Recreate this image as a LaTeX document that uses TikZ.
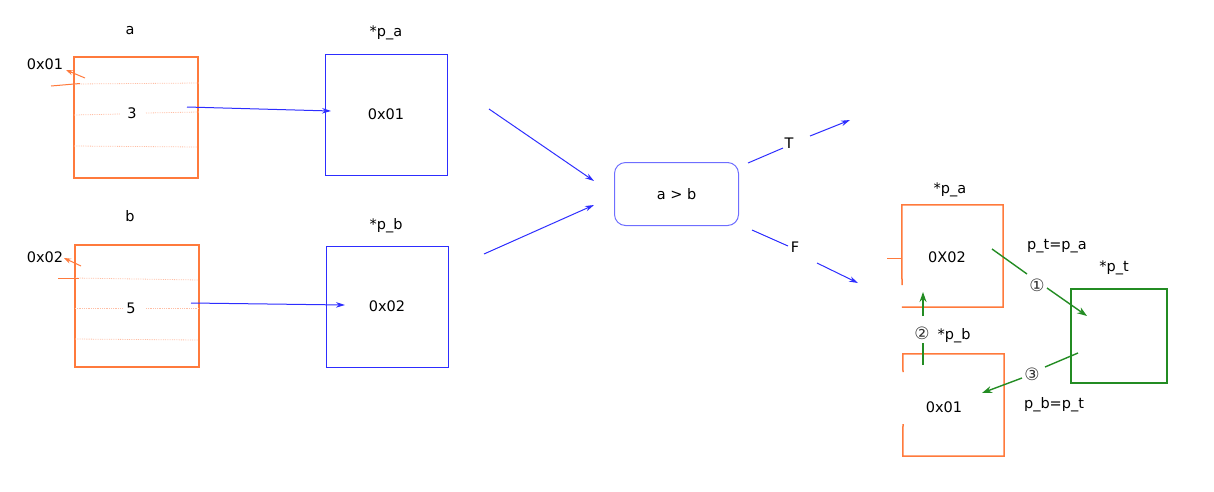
\documentclass[tikz,border=0pt]{standalone}
\usepackage{fontspec}
\setmainfont{DejaVu Sans}
\usetikzlibrary{arrows.meta}
\definecolor{org}{RGB}{255,122,60}
\definecolor{blu}{RGB}{45,45,255}
\definecolor{lblu}{RGB}{110,110,255}
\definecolor{grn}{RGB}{35,140,35}
\definecolor{faint}{RGB}{255,190,165}
\tikzset{
  lbl/.style={inner sep=1pt, font=\fontsize{14.5}{16}\selectfont},
  circ/.style={inner sep=1pt, font=\fontsize{17}{18}\selectfont, text=black!80},
  obox/.style={draw=org, line width=1.5pt, inner sep=0pt},
  bbox/.style={draw=blu, line width=0.9pt, inner sep=0pt},
  gbox/.style={draw=grn, line width=1.6pt, inner sep=0pt},
  ghost/.style={inner sep=0pt},
  barr/.style={draw=blu, line width=1pt, -{Stealth[length=9pt,width=5.5pt]}},
  bline/.style={draw=blu, line width=1pt},
  oarr/.style={draw=org, line width=1pt, -{Stealth[length=7pt,width=5pt]}},
  oline/.style={draw=org, line width=1pt},
  garr/.style={draw=grn, line width=1.4pt, -{Stealth[length=10pt,width=7pt]}},
  gline/.style={draw=grn, line width=1.4pt},
  fline/.style={draw=faint, line width=0.8pt, densely dotted},
}
\begin{document}
\begin{tikzpicture}[x=1pt,y=-1pt]
\useasboundingbox (0,0) rectangle (1214,491);
% ---- left boxes
\node[obox, minimum width=124pt, minimum height=121pt] (A) at (136,117.5) {};
\node[obox, minimum width=124pt, minimum height=122pt] (B) at (137,306) {};
\node[bbox, minimum width=122pt, minimum height=121pt] (PA) at (386,114.5) {};
\node[bbox, minimum width=122pt, minimum height=121pt] (PB) at (387,306.5) {};
% faint lines
\draw[fline] (74,84) -- (199,83);
\draw[fline] (74,115) -- (120,114);
\draw[fline] (146,113) -- (199,112);
\draw[fline] (74,146) -- (198,147);
\draw[fline] (75,278) -- (199,280);
\draw[fline] (75,308) -- (122,308);
\draw[fline] (146,308) -- (199,308);
\draw[fline] (75,339) -- (199,340);
% labels
\node[lbl] (la) at (130,31) {a};
\node[lbl] (lb) at (130,216) {b};
\node[lbl] (lpa) at (386,33) {*p\_a};
\node[lbl] (lpb) at (386,226) {*p\_b};
\node[lbl] (v3) at (132,113) {3};
\node[lbl] (v5) at (131,308) {5};
\node[lbl] (ad1) at (45,64) {0x01};
\node[lbl] (ad2) at (45,257) {0x02};
\node[lbl] at (PA.center) {0x01};
\node[lbl] at (PB.center) {0x02};
% orange address pointers
\coordinate (o1s) at (85,78); \coordinate (o1e) at (66,70);
\draw[oarr] (o1s) -- (o1e);
\coordinate (o1a) at (51,86); \coordinate (o1b) at (80,83.5);
\draw[oline] (o1a) -- (o1b);
\coordinate (o2s) at (81,266); \coordinate (o2e) at (64,258);
\draw[oarr] (o2s) -- (o2e);
\coordinate (o2a) at (58,278); \coordinate (o2b) at (79,278);
\draw[oline] (o2a) -- (o2b);
% blue value arrows
\coordinate (b1s) at (187,107); \coordinate (b1e) at (331,111);
\draw[barr] (b1s) -- (b1e);
\coordinate (b2s) at (191,303); \coordinate (b2e) at (345,305);
\draw[barr] (b2s) -- (b2e);
% comparison
\node[draw=lblu, line width=1pt, rounded corners=11pt, minimum width=124pt, minimum height=63pt] (cmp) at (676.5,194) {};
\node[lbl] at (cmp.center) {a > b};
\coordinate (c1s) at (489,109); \coordinate (c1e) at (594,181);
\draw[barr] (c1s) -- (c1e);
\coordinate (c2s) at (484,254); \coordinate (c2e) at (594,205);
\draw[barr] (c2s) -- (c2e);
% T branch
\node[lbl] (T) at (789,143) {T};
\coordinate (t1) at (748,163); \coordinate (t2) at (783,148);
\draw[bline] (t1) -- (t2);
\coordinate (t3) at (810,136); \coordinate (t4) at (850,120);
\draw[barr] (t3) -- (t4);
% F branch
\node[lbl] (F) at (795,247) {F};
\coordinate (f1) at (752,230); \coordinate (f2) at (788,246);
\draw[bline] (f1) -- (f2);
\coordinate (f3) at (817,263); \coordinate (f4) at (858,283);
\draw[barr] (f3) -- (f4);
% right group
\node[ghost, minimum width=101pt, minimum height=102pt] (RA) at (952.5,256) {};
\draw[org, line width=1.5pt] (902,285) -- (RA.north west) -- (RA.north east) -- (RA.south east) -- (RA.south west);
\node[ghost, minimum width=101pt, minimum height=102pt] (RB) at (953.5,405) {};
\draw[org, line width=1.5pt] (903,372) -- (RB.north west) -- (RB.north east) -- (RB.south east) -- (RB.south west) -- (903,424);
\node[gbox, minimum width=96pt, minimum height=94pt] (PT) at (1119,336) {};
\coordinate (rl1) at (887,258); \coordinate (rl2) at (902,258);
\draw[oline] (rl1) -- (rl2);
\node[lbl] (rpa) at (950,190) {*p\_a};
\node[lbl] at (947,257) {0X02};
\node[lbl] at (944,407) {0x01};
\node[lbl] (ptpa) at (1057,246) {p\_t=p\_a};
\node[lbl] (lpt) at (1114,268) {*p\_t};
\node[lbl] (pbpt) at (1054,405) {p\_b=p\_t};
\node[lbl] (rpb) at (954,336) {*p\_b};
\node[circ] (n1) at (1037,285) {①};
\node[circ] (n2) at (922,333) {②};
\node[circ] (n3) at (1032,374) {③};
% green arrows
\coordinate (g1s) at (992,249); \coordinate (g1m) at (1027,274);
\coordinate (g1n) at (1047,288); \coordinate (g1e) at (1087,316);
\draw[gline] (g1s) -- (g1m);
\draw[garr] (g1n) -- (g1e);
\coordinate (g2s) at (923,365); \coordinate (g2m) at (923,343);
\coordinate (g2n) at (923,316); \coordinate (g2e) at (923,292);
\draw[gline] (g2s) -- (g2m);
\draw[garr] (g2n) -- (g2e);
\coordinate (g3s) at (1078,353); \coordinate (g3m) at (1045,367);
\coordinate (g3n) at (1022,378); \coordinate (g3e) at (982,393);
\draw[gline] (g3s) -- (g3m);
\draw[garr] (g3n) -- (g3e);
\end{tikzpicture}
\end{document}
